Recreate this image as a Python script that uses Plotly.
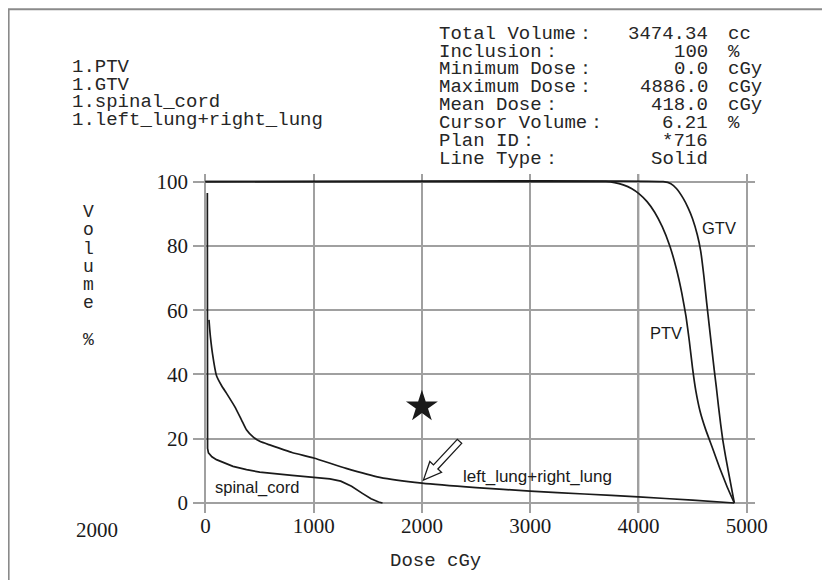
import plotly.graph_objects as go

# ---------------- data ----------------
DOSE_TICKS = [0, 1000, 2000, 3000, 4000, 5000]
VOLUME_TICKS = [0, 20, 40, 60, 80, 100]

ptv_dose = [0, 3700, 3780, 3860, 3940, 4007, 4080, 4150, 4220, 4290, 4350, 4400, 4440, 4470, 4500, 4530,
            4570, 4620, 4680, 4750, 4820, 4886]
ptv_vol = [100, 100, 99.7, 99.0, 97.8, 96.2, 93.8, 90.5, 86.0, 80.0, 73.0, 65.5, 58.0, 50.5, 42.0, 35.0,
           28.5, 23.0, 17.5, 11.0, 5.0, 0]

gtv_dose = [0, 4229, 4300, 4353, 4414, 4460, 4500, 4544, 4575, 4605, 4630, 4655, 4680, 4700, 4720, 4740,
            4760, 4780, 4805, 4830, 4858, 4886]
gtv_vol = [100, 100, 99.4, 97.8, 94.8, 91.8, 88.5, 83.5, 78.5, 70.5, 62.5, 55.0, 47.5, 41.5, 36.0, 30.0,
           24.5, 19.5, 14.5, 10.0, 5.0, 0]

cord_dose = [18, 20, 28, 60, 102, 180, 255, 380, 502, 800, 1000, 1150, 1250, 1350, 1450, 1530, 1600, 1636]
cord_vol = [96.5, 17.0, 15.6, 14.4, 13.5, 12.3, 11.4, 10.4, 9.6, 8.6, 8.0, 7.5, 6.8, 5.2, 3.0, 1.3, 0.3, 0]

lung_dose = [33, 40, 46, 65, 102, 150, 194, 271, 333, 379, 440, 502, 600, 800, 1000, 1300, 1611, 2000,
             2500, 3000, 3500, 4000, 4500, 4886]
lung_vol = [57.0, 54.0, 51.8, 46.6, 39.7, 36.5, 34.2, 30.0, 25.9, 22.8, 20.6, 19.2, 18.0, 15.7, 14.0, 10.8,
            8.0, 6.2, 4.8, 3.7, 2.8, 1.9, 0.9, 0]

structures = ["1.PTV", "1.GTV", "1.spinal_cord", "1.left_lung+right_lung"]

info_labels = ["Total Volume：", "Inclusion：", "Minimum Dose：", "Maximum Dose：", "Mean Dose：",
               "Cursor Volume：", "Plan ID：", "Line Type："]
info_values = ["3474.34", "100", "0.0", "4886.0", "418.0", "6.21", "*716", "Solid"]
info_units = ["cc", "%", "cGy", "cGy", "cGy", "%", "", ""]

STAR_DOSE, STAR_VOL = 2000, 30
CURSOR_DOSE = 4000
ARROW_DOSE = 2000
ARROW_VOL = lung_vol[lung_dose.index(ARROW_DOSE)]
STRAY_LABEL = "2000"

# ---------------- layout geometry (screen pixels) ----------------
OFF = 8                      # default page body margin
SCREEN_W, SCREEN_H = 830, 580
W, H = SCREEN_W - OFF, SCREEN_H - OFF
PL, PR, PT, PB = 193.3, 755.0, 174.0, 513.3
X_RANGE = [-114.6, 5077]
Y_RANGE = [-3.11, 102.4]


def fx(px):
    return (px - PL) / (PR - PL)


def fy(py):
    return (PB - py) / (PB - PT)


MONO = "Courier New, Liberation Mono, monospace"
SERIF = "Liberation Serif, Times New Roman, serif"
SANS = "Liberation Sans, Arial, sans-serif"
INK = "#1a1a1a"
TXT = "#262626"
MONO_SIZE = 19

fig = go.Figure()

fig.add_trace(go.Scatter(x=ptv_dose, y=ptv_vol, mode="lines",
                         line=dict(color=INK, width=1.7, shape="spline", smoothing=0.4)))
fig.add_trace(go.Scatter(x=gtv_dose, y=gtv_vol, mode="lines",
                         line=dict(color=INK, width=1.7, shape="spline", smoothing=0.4)))
fig.add_trace(go.Scatter(x=cord_dose, y=cord_vol, mode="lines",
                         line=dict(color=INK, width=1.7)))
fig.add_trace(go.Scatter(x=lung_dose, y=lung_vol, mode="lines",
                         line=dict(color=INK, width=1.7, shape="spline", smoothing=0.5)))
fig.add_trace(go.Scatter(x=[STAR_DOSE], y=[STAR_VOL], mode="markers",
                         marker=dict(symbol="star", size=24, color=INK, line=dict(width=0))))

annotations = []
# structure list
for i, s in enumerate(structures):
    annotations.append(dict(text=s, x=fx(70), y=fy(67 + i * 17.6), xref="paper", yref="paper",
                            xanchor="left", yanchor="middle", showarrow=False,
                            font=dict(family=MONO, size=MONO_SIZE, color=TXT)))
# info block
for i, (lab, val, unit) in enumerate(zip(info_labels, info_values, info_units)):
    yy = fy(33.5 + i * 17.9)
    annotations.append(dict(text=lab, x=fx(437), y=yy, xref="paper", yref="paper", xanchor="left",
                            yanchor="middle", showarrow=False, font=dict(family=MONO, size=MONO_SIZE, color=TXT)))
    annotations.append(dict(text=val, x=fx(710), y=yy, xref="paper", yref="paper", xanchor="right",
                            yanchor="middle", showarrow=False, font=dict(family=MONO, size=MONO_SIZE, color=TXT)))
    if unit:
        annotations.append(dict(text=unit, x=fx(726), y=yy, xref="paper", yref="paper", xanchor="left",
                                yanchor="middle", showarrow=False,
                                font=dict(family=MONO, size=MONO_SIZE, color=TXT)))
# y-axis title, stacked letters
for i, ch in enumerate(["V", "o", "l", "u", "m", "e", "", "%"]):
    if ch:
        annotations.append(dict(text=ch, x=fx(89), y=fy(212 + i * 18.3), xref="paper", yref="paper",
                                xanchor="center", yanchor="middle", showarrow=False,
                                font=dict(family=MONO, size=18, color=TXT)))
# x-axis title
annotations.append(dict(text="Dose cGy", x=fx(436), y=fy(561), xref="paper", yref="paper", xanchor="center",
                        yanchor="middle", showarrow=False, font=dict(family=MONO, size=MONO_SIZE, color=TXT)))
# stray label
annotations.append(dict(text=STRAY_LABEL, x=fx(97), y=fy(530), xref="paper", yref="paper", xanchor="center",
                        yanchor="middle", showarrow=False, font=dict(family=SERIF, size=21, color=INK)))
# curve labels
annotations.append(dict(text="GTV", x=4745, y=85.5, xanchor="center", yanchor="middle", showarrow=False,
                        font=dict(family=SANS, size=16.5, color=INK)))
annotations.append(dict(text="PTV", x=4252, y=52.9, xanchor="center", yanchor="middle", showarrow=False,
                        font=dict(family=SANS, size=16.5, color=INK)))
annotations.append(dict(text="spinal_cord", x=70, y=4.7, xanchor="left", yanchor="middle", showarrow=False,
                        font=dict(family=SANS, size=16.5, color=INK)))
annotations.append(dict(text="left_lung+right_lung", x=2359, y=8.3, xanchor="left", yanchor="middle",
                        showarrow=False, font=dict(family=SANS, size=17, color=INK)))

# hollow arrow (pixel path relative to the cursor point on the lung curve)
ux, uy = 0.681, 0.731
nx, ny = -uy, ux
L, HL, HW, SW = 53, 18, 8, 3.0
ox, oy = 1.5, 3.0


def pt(a, b):
    return (ox + ux * a + nx * b, oy + uy * a + ny * b)


poly = [pt(0, 0), pt(HL, HW), pt(HL, SW), pt(L, SW), pt(L, -SW), pt(HL, -SW), pt(HL, -HW)]
path = "M " + " L ".join(f"{p[0]:.2f},{p[1]:.2f}" for p in poly) + " Z"

shapes = [
    dict(type="line", xref="x", yref="paper", x0=CURSOR_DOSE, x1=CURSOR_DOSE, y0=0, y1=1,
         line=dict(color="#4a4a4a", width=1.6), layer="below"),
    dict(type="path", xref="x", yref="y", xsizemode="pixel", ysizemode="pixel",
         xanchor=ARROW_DOSE, yanchor=ARROW_VOL, path=path,
         fillcolor="white", line=dict(color=INK, width=1.3)),
    dict(type="rect", xref="paper", yref="paper", x0=fx(9), x1=fx(826), y0=fy(640), y1=fy(9),
         line=dict(color="#8a8a8a", width=2), fillcolor="rgba(0,0,0,0)"),
]

fig.update_layout(
    width=W, height=H,
    margin=dict(l=PL - OFF, r=SCREEN_W - PR, t=PT - OFF, b=SCREEN_H - PB, pad=0, autoexpand=False),
    paper_bgcolor="white", plot_bgcolor="white",
    showlegend=False,
    annotations=annotations,
    shapes=shapes,
    xaxis=dict(range=X_RANGE, tickvals=DOSE_TICKS, showgrid=True, gridcolor="#a0a0a0", gridwidth=1.5,
               zeroline=False, showline=False, ticks="", ticklabelstandoff=-2,
               tickfont=dict(family=SERIF, size=21, color=INK)),
    yaxis=dict(range=Y_RANGE, tickvals=VOLUME_TICKS, showgrid=True, gridcolor="#a0a0a0", gridwidth=1.5,
               zeroline=False, showline=False, ticks="", ticklabelstandoff=4,
               tickfont=dict(family=SERIF, size=21, color=INK)),
)

fig.write_html("out.html")
